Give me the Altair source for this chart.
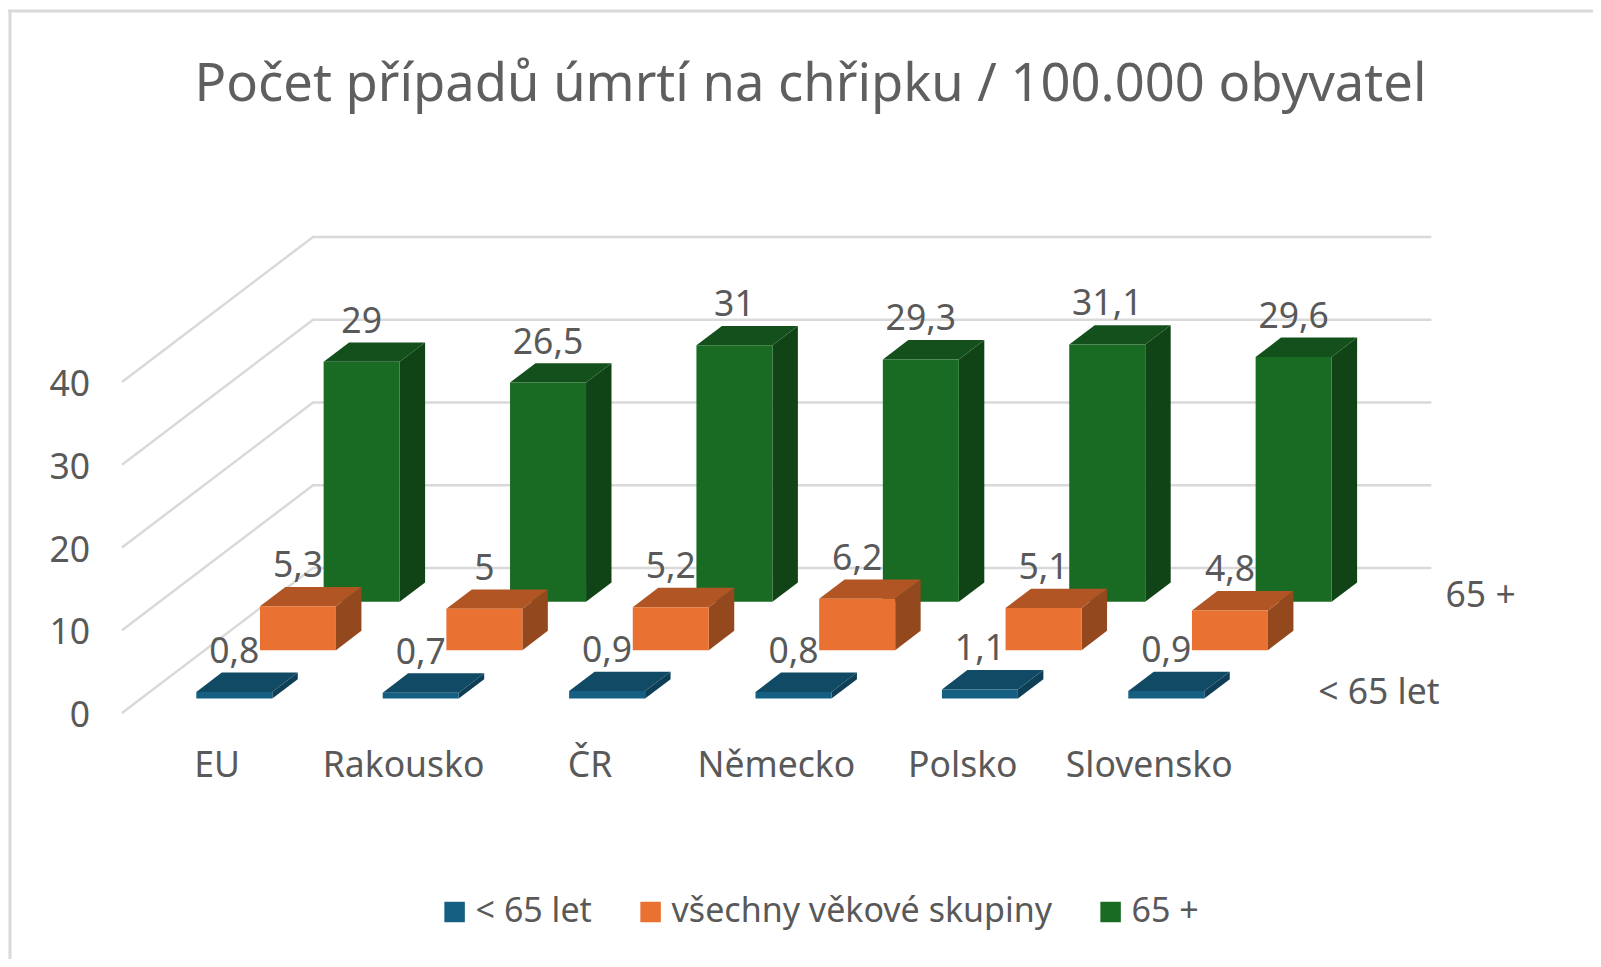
import altair as alt
import pandas as pd

categories = ["EU", "Rakousko", "ČR", "Německo", "Polsko", "Slovensko"]
series_names = ["< 65 let", "všechny věkové skupiny", "65 +"]
under_65 = [0.8, 0.7, 0.9, 0.8, 1.1, 0.9]
all_ages = [5.3, 5.0, 5.2, 6.2, 5.1, 4.8]
over_65 = [29, 26.5, 31, 29.3, 31.1, 29.6]
series_values = [under_65, all_ages, over_65]
y_ticks = [0, 10, 20, 30, 40]
front_colors = ["#156082", "#E97132", "#196B24"]
top_colors = ["#114A64", "#B05523", "#13501B"]
side_colors = ["#0E3F56", "#94481E", "#104416"]
series_axis_labels = ["< 65 let", None, "65 +"]

FONT = "Noto Sans"
TEXT = "#595959"
W, H = 1585, 951
PX_X, PX_Y = 186.4, 8.275       # pixels per category / per value unit
X0, Y0 = 114, 705               # position of category 0, value 0 on the front edge
KX, KY = 191 / PX_X, 145 / PX_Y  # shear of the depth axis, in data units
BAR_W = 76 / PX_X
D1, D2 = 0.3, 0.7               # bar extent in its depth row

xs = alt.Scale(domain=[-X0 / PX_X, (W - X0) / PX_X], nice=False, zero=False)
ys = alt.Scale(domain=[(Y0 - H) / PX_Y, Y0 / PX_Y], nice=False, zero=False)


def X(f):
    return alt.X(f, type="quantitative", scale=xs, axis=None)


def Y(f):
    return alt.Y(f, type="quantitative", scale=ys, axis=None, stack=None)


def fmt(v):
    return f"{v:g}".replace(".", ",")


# back wall and side wall grid
grid = []
for v in y_ticks:
    for o, (gx, gy) in enumerate([(0, v), (KX, v + KY), (len(categories) + KX, v + KY)]):
        grid.append(dict(level=v, o=o, gx=gx, gy=gy))
grid_layer = alt.Chart(pd.DataFrame(grid)).mark_line(color="#D9D9D9", strokeWidth=2.5).encode(
    x=X("gx"), y=Y("gy"), detail="level:N", order="o:Q"
)

layers = [grid_layer]
labels = []
# back row first so that nearer rows overlap it
for r in [2, 1, 0]:
    d1, d2 = (r + D1) / 3, (r + D2) / 3
    side, top, front = [], [], []
    for c, (cat, v) in enumerate(zip(categories, series_values[r])):
        xl = c + (1 - BAR_W) / 2
        xr = xl + BAR_W
        front.append(dict(cat=cat, series=series_names[r],
                          x=xl + d1 * KX, x2=xr + d1 * KX, y=d1 * KY, y2=v + d1 * KY))
        for d in (d1, d2):
            side.append(dict(cat=cat, x=xr + d * KX, y=v + d * KY, y2=d * KY))
            top.append(dict(cat=cat, y=v + d * KY, x=xl + d * KX, x2=xr + d * KX))
        labels.append(dict(x=(xl + xr) / 2 + d1 * KX, y=v + d1 * KY, label=fmt(v)))
    layers.append(alt.Chart(pd.DataFrame(side)).mark_area(color=side_colors[r]).encode(
        x=X("x"), y=Y("y"), y2="y2:Q", detail="cat:N"))
    layers.append(alt.Chart(pd.DataFrame(top)).mark_area(color=top_colors[r], orient="horizontal").encode(
        x=X("x"), x2="x2:Q", y=Y("y"), detail="cat:N"))
    layers.append(alt.Chart(pd.DataFrame(front)).mark_rect().encode(
        x=X("x"), x2="x2:Q", y=Y("y"), y2="y2:Q",
        color=alt.Color("series:N", scale=alt.Scale(domain=series_names, range=front_colors),
                        legend=alt.Legend(title=None, orient="none", legendX=429.6, legendY=887,
                                          direction="horizontal", columns=3, symbolType="square",
                                          symbolSize=420, symbolStrokeWidth=0, columnPadding=41,
                                          labelFont=FONT, labelFontSize=34, labelColor=TEXT,
                                          labelOffset=4, labelLimit=500, rowPadding=0))))

text_kw = dict(font=FONT, fontSize=35.5, color=TEXT)
layers.append(alt.Chart(pd.DataFrame(labels)).mark_text(dy=-40, baseline="middle", align="center", **text_kw).encode(
    x=X("x"), y=Y("y"), text="label:N"))

layers.append(alt.Chart(pd.DataFrame({"x": [0.0] * len(y_ticks), "y": y_ticks, "t": [str(t) for t in y_ticks]}))
              .mark_text(dx=-32, dy=3, align="right", baseline="middle", **text_kw)
              .encode(x=X("x"), y=Y("y"), text="t:N"))
layers.append(alt.Chart(pd.DataFrame({"x": [c + 0.5 for c in range(len(categories))], "y": [0] * len(categories), "t": categories}))
              .mark_text(dy=53, dx=2, align="center", baseline="middle", **text_kw)
              .encode(x=X("x"), y=Y("y"), text="t:N"))
rows = [dict(x=len(categories) + (r + 0.5) / 3 * KX, y=(r + 0.5) / 3 * KY, t=t)
        for r, t in enumerate(series_axis_labels) if t]
layers.append(alt.Chart(pd.DataFrame(rows))
              .mark_text(dx=46, dy=4, align="left", baseline="middle", **text_kw)
              .encode(x=X("x"), y=Y("y"), text="t:N"))

# outer chart frame
frame_df = pd.DataFrame({"k": [0]})
layers.append(alt.Chart(frame_df).mark_rule(color="#D9D9D9", strokeWidth=3).encode(
    x=alt.value(2), y=alt.value(2), y2=alt.value(H)))
layers.append(alt.Chart(frame_df).mark_rule(color="#D9D9D9", strokeWidth=3).encode(
    x=alt.value(0), x2=alt.value(W), y=alt.value(3)))

chart = alt.layer(*layers).properties(
    width=W, height=H,
    padding=0,
    autosize=alt.AutoSizeParams(type="none"),
    title=alt.TitleParams("Počet případů úmrtí na chřipku / 100.000 obyvatel",
                          font=FONT, fontSize=52.5, fontWeight="normal", color="#5F5F5F",
                          anchor="middle", baseline="middle", dx=10, dy=129, offset=0),
).configure_view(stroke=None)

chart.save("out.html", embed_options={"renderer": "svg", "actions": False})
